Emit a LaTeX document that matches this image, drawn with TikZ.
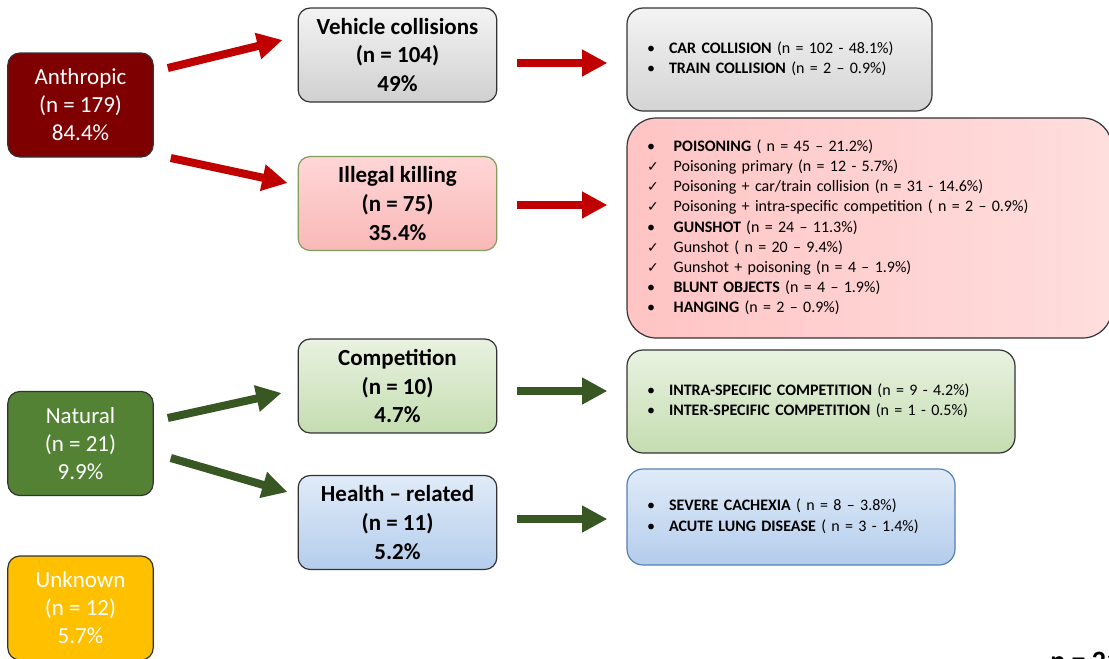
\documentclass[tikz,border=0pt]{standalone}
\usepackage{fontspec}
\setmainfont{Carlito}
\newfontfamily\symfont{DejaVu Sans}
\usetikzlibrary{arrows.meta}
\usepackage{xcolor}

\definecolor{anthred}{RGB}{127,0,0}
\definecolor{natgreen}{RGB}{84,130,53}
\definecolor{unkyellow}{RGB}{255,192,0}
\definecolor{arrred}{RGB}{192,0,0}
\definecolor{arrgreen}{RGB}{56,87,35}
\definecolor{olivebd}{RGB}{130,155,95}
\definecolor{bluebd}{RGB}{85,128,182}

\newcommand{\chkmark}{{\symfont\fontsize{10.5}{12}\selectfont ✓}}

\tikzset{
	causebox/.style={draw=black!80, line width=0.9pt, rounded corners=9pt, minimum width=109pt, minimum height=78pt, text=white, align=center, font=\fontsize{17.25}{21}\selectfont},
	groupbox/.style={draw=black!80, line width=0.9pt, rounded corners=9pt, minimum width=149pt, minimum height=70.5pt, align=center, font=\fontsize{17.25}{21.4}\selectfont\bfseries},
	listbox/.style={draw=black!80, line width=0.9pt, rounded corners=12pt, inner xsep=15pt, align=left, font=\fontsize{12}{15.1}\selectfont},
	redarrow/.style={draw=arrred, line width=6pt, -{Triangle[length=19pt,width=19pt]}},
	greenarrow/.style={draw=arrgreen, line width=6pt, -{Triangle[length=19pt,width=19pt]}}
}

\begin{document}
\begin{tikzpicture}[x=0.75pt,y=0.75pt,yscale=-1,xscale=1]
		\useasboundingbox (0,0) rectangle (1109,658);
		
		%Shape: Cause boxes
		\node[causebox, fill=anthred] (anth) at (80.5,105) {Anthropic\\(n = 179)\\84.4\%};
		\node[causebox, fill=natgreen] (nat) at (80.5,443.5) {Natural\\(n = 21)\\9.9\%};
		\node[causebox, fill=unkyellow] (unk) at (80.5,608) {Unknown\\(n = 12)\\5.7\%};
		
		%Shape: Group boxes
		\node[groupbox, top color={rgb,255:red,243;green,243;blue,243}, bottom color={rgb,255:red,208;green,208;blue,208}] (veh) at (397.5,55) {Vehicle collisions\\(n = 104)\\49\%};
		\node[groupbox, draw=olivebd, top color={rgb,255:red,255;green,214;blue,214}, bottom color={rgb,255:red,249;green,184;blue,184}] (ill) at (397.5,203.5) {Illegal killing\\(n = 75)\\35.4\%};
		\node[groupbox, top color={rgb,255:red,233;green,242;blue,225}, bottom color={rgb,255:red,196;green,221;blue,176}] (comp) at (397.5,386) {Competition\\(n = 10)\\4.7\%};
		\node[groupbox, top color={rgb,255:red,224;green,235;blue,248}, bottom color={rgb,255:red,180;green,205;blue,236}] (hlth) at (397.5,522.5) {Health – related\\(n = 11)\\5.2\%};
		
		%Shape: List boxes
		\node[listbox, text width=198.75pt, minimum height=77.25pt, top color={rgb,255:red,243;green,243;blue,243}, bottom color={rgb,255:red,212;green,212;blue,212}] (vehlist) at (779.5,59.5) {%
			\begin{tabular}{@{}p{16.5pt}@{}l@{}}
				\textbullet & \textbf{CAR COLLISION} (n = 102 - 48.1\%)\\
				\textbullet & \textbf{TRAIN COLLISION} (n = 2 – 0.9\%)
			\end{tabular}};
		\node[listbox, rounded corners=22pt, text width=333.75pt, minimum height=165pt, left color={rgb,255:red,255;green,196;blue,196}, right color={rgb,255:red,255;green,222;blue,222}] (illlist) at (869.5,228) {%
			\begin{tabular}{@{}p{20pt}@{}l@{}}
				\textbullet & \textbf{POISONING} ( n = 45 – 21.2\%)\\
				\chkmark & Poisoning primary (n = 12 - 5.7\%)\\
				\chkmark & Poisoning + car/train collision (n = 31 - 14.6\%)\\
				\chkmark & Poisoning + intra-specific competition ( n = 2 – 0.9\%)\\
				\textbullet & \textbf{GUNSHOT} (n = 24 – 11.3\%)\\
				\chkmark & Gunshot ( n = 20 – 9.4\%)\\
				\chkmark & Gunshot + poisoning (n = 4 – 1.9\%)\\
				\textbullet & \textbf{BLUNT OBJECTS} (n = 4 – 1.9\%)\\
				\textbullet & \textbf{HANGING} (n = 2 – 0.9\%)
			\end{tabular}};
		\node[listbox, text width=261pt, minimum height=77.25pt, top color={rgb,255:red,233;green,242;blue,225}, bottom color={rgb,255:red,196;green,221;blue,176}] (complist) at (821,401.5) {%
			\begin{tabular}{@{}p{16.5pt}@{}l@{}}
				\textbullet & \textbf{INTRA-SPECIFIC COMPETITION} (n = 9 - 4.2\%)\\
				\textbullet & \textbf{INTER-SPECIFIC COMPETITION} (n = 1 - 0.5\%)
			\end{tabular}};
		\node[listbox, draw=bluebd, text width=216pt, minimum height=72pt, top color={rgb,255:red,224;green,235;blue,248}, bottom color={rgb,255:red,180;green,205;blue,236}] (hlthlist) at (791,517) {%
			\begin{tabular}{@{}p{16.5pt}@{}l@{}}
				\textbullet & \textbf{SEVERE CACHEXIA} ( n = 8 – 3.8\%)\\
				\textbullet & \textbf{ACUTE LUNG DISEASE} ( n = 3 - 1.4\%)
			\end{tabular}};
		
		%Straight Lines: red arrows
		\draw[redarrow] ([shift={(14,-37)}]anth.east) -- ([shift={(-15,-15)}]veh.west);
		\draw[redarrow] ([shift={(17,53)}]anth.east) -- ([shift={(-10,-20.5)}]ill.west);
		\draw[redarrow] ([shift={(20,8)}]veh.east) -- ([shift={(-19,3.5)}]vehlist.west);
		\draw[redarrow] ([shift={(20,1.5)}]ill.east) -- ([shift={(-19,-23)}]illlist.west);
		
		%Straight Lines: green arrows
		\draw[greenarrow] ([shift={(14,-25.5)}]nat.east) -- ([shift={(-16,7)}]comp.west);
		\draw[greenarrow] ([shift={(17,14.5)}]nat.east) -- ([shift={(-10,-30.5)}]hlth.west);
		\draw[greenarrow] ([shift={(20,5)}]comp.east) -- ([shift={(-19,-10.5)}]complist.west);
		\draw[greenarrow] ([shift={(20,-3.5)}]hlth.east) -- ([shift={(-19,2)}]hlthlist.west);
		
		% Text Node
		\node[anchor=base west, inner sep=0pt, font=\fontsize{21}{25}\selectfont\bfseries] (total) at (1050,670) {n = 212};
		
\end{tikzpicture}
\end{document}
